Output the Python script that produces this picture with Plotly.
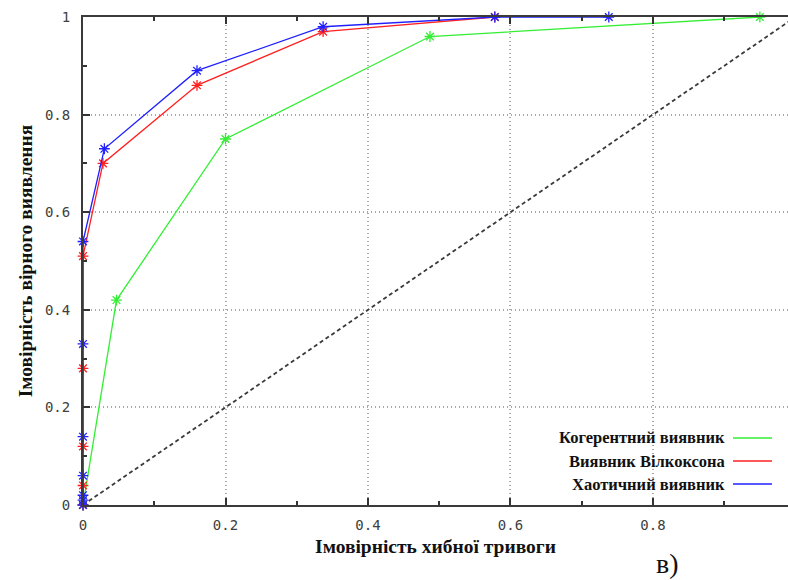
import plotly.graph_objects as go

# ROC curves: probability of false alarm vs probability of detection
coherent_pf = [0.0, 0.047, 0.20, 0.487, 0.950]
coherent_pd = [0.0, 0.42, 0.75, 0.96, 1.0]

wilcoxon_pf = [0.0, 0.0, 0.0, 0.0, 0.0, 0.028, 0.160, 0.337, 0.578]
wilcoxon_pd = [0.0, 0.04, 0.12, 0.28, 0.51, 0.70, 0.86, 0.97, 1.0]

chaotic_pf = [0.0, 0.0, 0.0, 0.0, 0.0, 0.0, 0.0, 0.030, 0.160, 0.337, 0.578, 0.738]
chaotic_pd = [0.0, 0.01, 0.02, 0.06, 0.14, 0.33, 0.54, 0.73, 0.89, 0.98, 1.0, 1.0]

chance_pf = [0.0, 1.0]
chance_pd = [0.0, 1.0]

legend_names = ["Когерентний виявник", "Виявник Вілкоксона", "Хаотичний виявник"]
series_colors = ["#33ee33", "#ff2020", "#2020ff"]

x_title = "Імовірність хибної тривоги"
y_title = "Імовірність вірного виявлення"
panel_label = "в)"

fig = go.Figure()

fig.add_trace(go.Scatter(
    x=chance_pf, y=chance_pd, mode="lines",
    line=dict(color="#3a3a3a", width=1.8, dash="4px,3px"),
    showlegend=False, hoverinfo="skip"))

for xs, ys, col, name in [
    (coherent_pf, coherent_pd, series_colors[0], legend_names[0]),
    (wilcoxon_pf, wilcoxon_pd, series_colors[1], legend_names[1]),
    (chaotic_pf, chaotic_pd, series_colors[2], legend_names[2]),
]:
    fig.add_trace(go.Scatter(
        x=xs, y=ys, mode="lines+markers", name=name,
        line=dict(color=col, width=1.3),
        marker=dict(symbol="asterisk-open", size=9,
                    line=dict(color=col, width=1.3)),
        showlegend=False, cliponaxis=False))

# Legend drawn on a white panel, with text right-aligned and line samples after it
x_px0, x_px1, y_px0, y_px1 = 83, 788, 17, 505
def px_x(px):
    return (px - x_px0) / (x_px1 - x_px0)
def px_y(py):
    return (y_px1 - py) / (y_px1 - y_px0)

fig.add_shape(type="rect", xref="paper", yref="paper",
              x0=px_x(553), x1=px_x(780), y0=px_y(501), y1=px_y(421),
              fillcolor="white", line=dict(width=0), layer="between")

legend_rows = [438, 461, 484]
for name, col, py in zip(legend_names, series_colors, legend_rows):
    fig.add_annotation(xref="paper", yref="paper", x=px_x(727), y=px_y(py),
                       text="<b>" + name + "</b>", showarrow=False,
                       xanchor="right", yanchor="middle",
                       font=dict(family="Liberation Serif", size=16.5, color="#111111"))
    fig.add_shape(type="line", xref="paper", yref="paper",
                  x0=px_x(733), x1=px_x(772), y0=px_y(py), y1=px_y(py),
                  line=dict(color=col, width=1.5))

fig.add_annotation(xref="paper", yref="paper", x=px_x(667), y=px_y(563),
                   text=panel_label, showarrow=False, xanchor="center", yanchor="middle",
                   font=dict(family="Liberation Serif", size=28, color="#111111"))

tick_font = dict(family="DejaVu Sans Mono", size=14, color="#404040")
title_font = dict(family="Liberation Serif", size=19.5, color="#111111")
grid_dash = "1px,3px"

fig.update_xaxes(
    range=[0, 0.9895], tickvals=[0, 0.2, 0.4, 0.6, 0.8],
    ticktext=["0", "0.2", "0.4", "0.6", "0.8"],
    ticks="inside", ticklen=7, tickwidth=1.5, tickcolor="#333333",
    minor=dict(dtick=0.1, tick0=0, ticks="inside", ticklen=4, tickcolor="#333333", showgrid=False),
    showline=True, linecolor="#3a3a3a", linewidth=2, mirror="ticks",
    showgrid=True, gridcolor="#a8a8a8", griddash=grid_dash, gridwidth=1.5,
    zeroline=False, tickfont=tick_font, ticklabelstandoff=6,
    title=dict(text="<b>" + x_title + "</b>", font=title_font, standoff=8))

fig.update_yaxes(
    range=[0, 1.0], tickvals=[0, 0.2, 0.4, 0.6, 0.8, 1.0],
    ticktext=["0", "0.2", "0.4", "0.6", "0.8", "1"],
    ticks="inside", ticklen=7, tickwidth=1.5, tickcolor="#333333",
    minor=dict(dtick=0.1, tick0=0, ticks="inside", ticklen=4, tickcolor="#333333", showgrid=False),
    showline=True, linecolor="#3a3a3a", linewidth=2, mirror=False,
    showgrid=True, gridcolor="#a8a8a8", griddash=grid_dash, gridwidth=1.5,
    zeroline=False, tickfont=tick_font, ticklabelstandoff=8,
    title=dict(text="<b>" + y_title + "</b>", font=title_font, standoff=7))

fig.update_layout(
    width=788, height=580,
    margin=dict(l=83, r=0, t=17, b=75),
    paper_bgcolor="white", plot_bgcolor="white",
    showlegend=False)

fig.write_html("out.html")
